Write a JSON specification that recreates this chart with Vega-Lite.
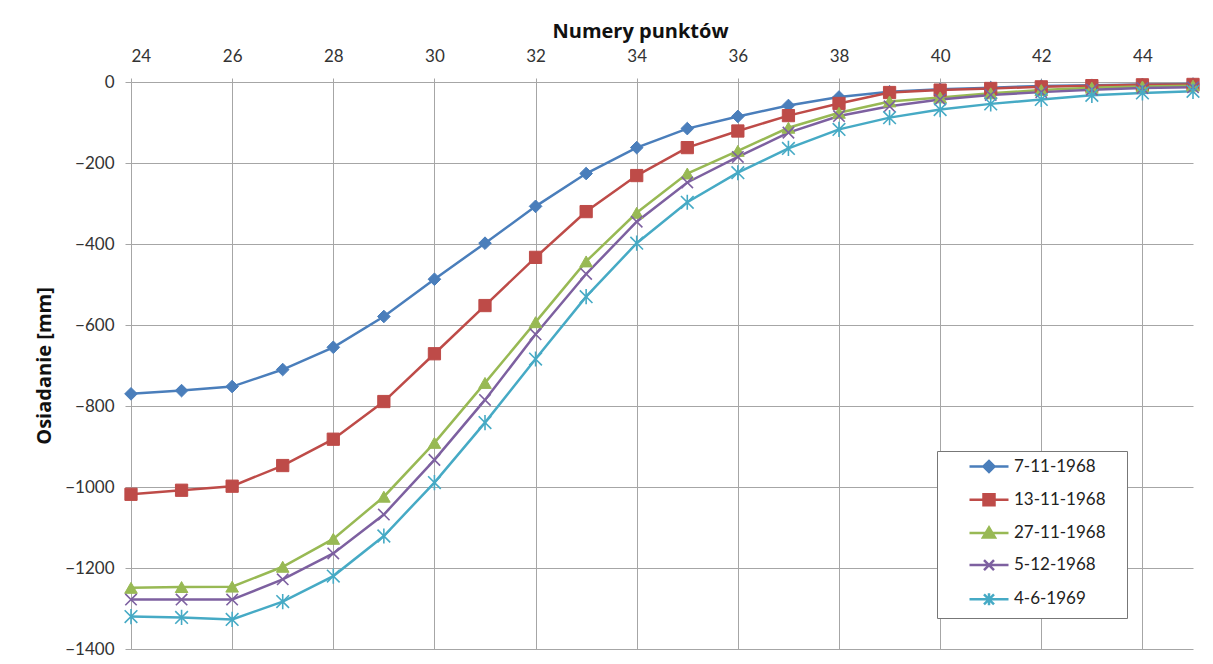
{
  "$schema": "https://vega.github.io/schema/vega-lite/v6.json",
  "width": 1062,
  "height": 567,
  "autosize": "none",
  "padding": {"left": 131, "top": 82, "right": 20, "bottom": 15},
  "background": "white",
  "config": {
    "view": {"stroke": null},
    "font": "Lato",
    "axis": {
      "labelFont": "Lato",
      "labelFontSize": 17,
      "labelColor": "#333333",
      "titleFont": "Open Sans",
      "titleFontWeight": "bold",
      "titleFontSize": 20,
      "titleColor": "#111111",
      "gridColor": "#a6a6a6",
      "gridWidth": 1,
      "tickColor": "#a6a6a6",
      "domainColor": "#a6a6a6",
      "tickSize": 6
    }
  },
  "data": {
    "values": [
      {"n": 24, "series": "7-11-1968", "v": -770},
      {"n": 25, "series": "7-11-1968", "v": -762},
      {"n": 26, "series": "7-11-1968", "v": -752},
      {"n": 27, "series": "7-11-1968", "v": -710},
      {"n": 28, "series": "7-11-1968", "v": -655},
      {"n": 29, "series": "7-11-1968", "v": -579},
      {"n": 30, "series": "7-11-1968", "v": -487},
      {"n": 31, "series": "7-11-1968", "v": -398},
      {"n": 32, "series": "7-11-1968", "v": -307},
      {"n": 33, "series": "7-11-1968", "v": -226},
      {"n": 34, "series": "7-11-1968", "v": -162},
      {"n": 35, "series": "7-11-1968", "v": -115},
      {"n": 36, "series": "7-11-1968", "v": -85},
      {"n": 37, "series": "7-11-1968", "v": -58},
      {"n": 38, "series": "7-11-1968", "v": -37},
      {"n": 39, "series": "7-11-1968", "v": -24},
      {"n": 40, "series": "7-11-1968", "v": -18},
      {"n": 41, "series": "7-11-1968", "v": -14},
      {"n": 42, "series": "7-11-1968", "v": -10},
      {"n": 43, "series": "7-11-1968", "v": -8},
      {"n": 44, "series": "7-11-1968", "v": -6},
      {"n": 45, "series": "7-11-1968", "v": -5},

      {"n": 24, "series": "13-11-1968", "v": -1018},
      {"n": 25, "series": "13-11-1968", "v": -1008},
      {"n": 26, "series": "13-11-1968", "v": -998},
      {"n": 27, "series": "13-11-1968", "v": -947},
      {"n": 28, "series": "13-11-1968", "v": -882},
      {"n": 29, "series": "13-11-1968", "v": -789},
      {"n": 30, "series": "13-11-1968", "v": -671},
      {"n": 31, "series": "13-11-1968", "v": -552},
      {"n": 32, "series": "13-11-1968", "v": -433},
      {"n": 33, "series": "13-11-1968", "v": -320},
      {"n": 34, "series": "13-11-1968", "v": -231},
      {"n": 35, "series": "13-11-1968", "v": -162},
      {"n": 36, "series": "13-11-1968", "v": -121},
      {"n": 37, "series": "13-11-1968", "v": -83},
      {"n": 38, "series": "13-11-1968", "v": -53},
      {"n": 39, "series": "13-11-1968", "v": -26},
      {"n": 40, "series": "13-11-1968", "v": -20},
      {"n": 41, "series": "13-11-1968", "v": -16},
      {"n": 42, "series": "13-11-1968", "v": -12},
      {"n": 43, "series": "13-11-1968", "v": -9},
      {"n": 44, "series": "13-11-1968", "v": -7},
      {"n": 45, "series": "13-11-1968", "v": -6},

      {"n": 24, "series": "27-11-1968", "v": -1249},
      {"n": 25, "series": "27-11-1968", "v": -1247},
      {"n": 26, "series": "27-11-1968", "v": -1246},
      {"n": 27, "series": "27-11-1968", "v": -1197},
      {"n": 28, "series": "27-11-1968", "v": -1128},
      {"n": 29, "series": "27-11-1968", "v": -1024},
      {"n": 30, "series": "27-11-1968", "v": -891},
      {"n": 31, "series": "27-11-1968", "v": -743},
      {"n": 32, "series": "27-11-1968", "v": -593},
      {"n": 33, "series": "27-11-1968", "v": -443},
      {"n": 34, "series": "27-11-1968", "v": -323},
      {"n": 35, "series": "27-11-1968", "v": -226},
      {"n": 36, "series": "27-11-1968", "v": -170},
      {"n": 37, "series": "27-11-1968", "v": -113},
      {"n": 38, "series": "27-11-1968", "v": -76},
      {"n": 39, "series": "27-11-1968", "v": -48},
      {"n": 40, "series": "27-11-1968", "v": -38},
      {"n": 41, "series": "27-11-1968", "v": -28},
      {"n": 42, "series": "27-11-1968", "v": -20},
      {"n": 43, "series": "27-11-1968", "v": -14},
      {"n": 44, "series": "27-11-1968", "v": -11},
      {"n": 45, "series": "27-11-1968", "v": -9},

      {"n": 24, "series": "5-12-1968", "v": -1278},
      {"n": 25, "series": "5-12-1968", "v": -1278},
      {"n": 26, "series": "5-12-1968", "v": -1278},
      {"n": 27, "series": "5-12-1968", "v": -1228},
      {"n": 28, "series": "5-12-1968", "v": -1164},
      {"n": 29, "series": "5-12-1968", "v": -1068},
      {"n": 30, "series": "5-12-1968", "v": -933},
      {"n": 31, "series": "5-12-1968", "v": -785},
      {"n": 32, "series": "5-12-1968", "v": -623},
      {"n": 33, "series": "5-12-1968", "v": -474},
      {"n": 34, "series": "5-12-1968", "v": -345},
      {"n": 35, "series": "5-12-1968", "v": -248},
      {"n": 36, "series": "5-12-1968", "v": -185},
      {"n": 37, "series": "5-12-1968", "v": -125},
      {"n": 38, "series": "5-12-1968", "v": -84},
      {"n": 39, "series": "5-12-1968", "v": -60},
      {"n": 40, "series": "5-12-1968", "v": -43},
      {"n": 41, "series": "5-12-1968", "v": -32},
      {"n": 42, "series": "5-12-1968", "v": -25},
      {"n": 43, "series": "5-12-1968", "v": -19},
      {"n": 44, "series": "5-12-1968", "v": -15},
      {"n": 45, "series": "5-12-1968", "v": -13},

      {"n": 24, "series": "4-6-1969", "v": -1320},
      {"n": 25, "series": "4-6-1969", "v": -1322},
      {"n": 26, "series": "4-6-1969", "v": -1327},
      {"n": 27, "series": "4-6-1969", "v": -1283},
      {"n": 28, "series": "4-6-1969", "v": -1220},
      {"n": 29, "series": "4-6-1969", "v": -1121},
      {"n": 30, "series": "4-6-1969", "v": -989},
      {"n": 31, "series": "4-6-1969", "v": -841},
      {"n": 32, "series": "4-6-1969", "v": -684},
      {"n": 33, "series": "4-6-1969", "v": -530},
      {"n": 34, "series": "4-6-1969", "v": -398},
      {"n": 35, "series": "4-6-1969", "v": -297},
      {"n": 36, "series": "4-6-1969", "v": -224},
      {"n": 37, "series": "4-6-1969", "v": -164},
      {"n": 38, "series": "4-6-1969", "v": -117},
      {"n": 39, "series": "4-6-1969", "v": -88},
      {"n": 40, "series": "4-6-1969", "v": -68},
      {"n": 41, "series": "4-6-1969", "v": -54},
      {"n": 42, "series": "4-6-1969", "v": -43},
      {"n": 43, "series": "4-6-1969", "v": -33},
      {"n": 44, "series": "4-6-1969", "v": -27},
      {"n": 45, "series": "4-6-1969", "v": -23}
    ]
  },
  "encoding": {
    "x": {
      "field": "n",
      "type": "quantitative",
      "scale": {"domain": [24, 45], "nice": false, "zero": false},
      "axis": {
        "orient": "top",
        "title": "Numery punktów",
        "titleX": 509,
        "titleAlign": "center",
        "values": [24, 26, 28, 30, 32, 34, 36, 38, 40, 42, 44],
        "labelPadding": 13,
        "titlePadding": 6,
        "domain": false,
        "tickSize": 4
      }
    },
    "y": {
      "field": "v",
      "type": "quantitative",
      "scale": {"domain": [-1400, 0], "nice": false},
      "axis": {
        "title": "Osiadanie [mm]",
        "format": "d",
        "values": [0, -200, -400, -600, -800, -1000, -1200, -1400],
        "labelPadding": 11,
        "titlePadding": 10,
        "domain": false
      }
    }
  },
  "layer": [
    {
      "mark": {"type": "line", "strokeWidth": 2.5},
      "encoding": {
        "color": {
          "field": "series",
          "type": "nominal",
          "sort": null,
          "scale": {
            "domain": ["7-11-1968", "13-11-1968", "27-11-1968", "5-12-1968", "4-6-1969"],
            "range": ["#4a7ebb", "#be4b48", "#98b954", "#7d60a0", "#46aac5"]
          },
          "legend": {
            "title": null,
            "orient": "none",
            "legendX": 806,
            "legendY": 369,
            "padding": 7,
            "rowPadding": 12.2,
            "symbolSize": 100,
            "labelOffset": 53,
            "labelFont": "Lato",
            "labelFontSize": 17,
            "labelColor": "#222222",
            "strokeColor": "#777777",
            "fillColor": "white",
            "encode": {
              "symbols": {
                "update": {
                  "shape": {
                    "signal": "datum.value === '7-11-1968' ? 'M3.4,0L11.2,0M6.2,0L7.3,-1.1L8.4,0L7.3,1.1ZM32.4,0' : datum.value === '13-11-1968' ? 'M3.4,0L11.2,0M6.2,-1.1L8.4,-1.1L8.4,1.1L6.2,1.1ZM32.4,0' : datum.value === '27-11-1968' ? 'M3.4,0L11.2,0M7.3,-1.1L8.5,0.9L6.1,0.9ZM32.4,0' : datum.value === '5-12-1968' ? 'M3.4,0L11.2,0M6.3,-1L8.3,1M6.3,1L8.3,-1M32.4,0' : 'M3.4,0L11.2,0M6.3,-1L8.3,1M6.3,1L8.3,-1M7.3,-1.2L7.3,1.2M32.4,0'"
                  },
                  "fill": {"signal": "scale('color', datum.value)"},
                  "stroke": {"signal": "scale('color', datum.value)"},
                  "strokeWidth": {"value": 2.5},
                  "opacity": {"value": 1}
                }
              }
            }
          }
        }
      }
    },
    {
      "transform": [{"filter": "datum.series === '7-11-1968'"}],
      "mark": {"type": "point", "shape": "diamond", "filled": true, "opacity": 1, "size": 160, "color": "#4a7ebb", "stroke": "#4a7ebb", "strokeWidth": 1}
    },
    {
      "transform": [{"filter": "datum.series === '13-11-1968'"}],
      "mark": {"type": "point", "shape": "square", "filled": true, "opacity": 1, "size": 150, "color": "#be4b48", "stroke": "#be4b48", "strokeWidth": 1}
    },
    {
      "transform": [{"filter": "datum.series === '27-11-1968'"}],
      "mark": {"type": "point", "shape": "triangle-up", "filled": true, "opacity": 1, "size": 160, "color": "#98b954", "stroke": "#98b954", "strokeWidth": 1}
    },
    {
      "transform": [{"filter": "datum.series === '5-12-1968'"}],
      "mark": {"type": "point", "shape": "M-1,-1L1,1M-1,1L1,-1", "filled": false, "opacity": 1, "size": 130, "stroke": "#7d60a0", "strokeWidth": 1.6}
    },
    {
      "transform": [{"filter": "datum.series === '4-6-1969'"}],
      "mark": {"type": "point", "shape": "M-1,-1L1,1M-1,1L1,-1M0,-1.2L0,1.2", "filled": false, "opacity": 1, "size": 160, "stroke": "#46aac5", "strokeWidth": 1.6}
    }
  ]
}
